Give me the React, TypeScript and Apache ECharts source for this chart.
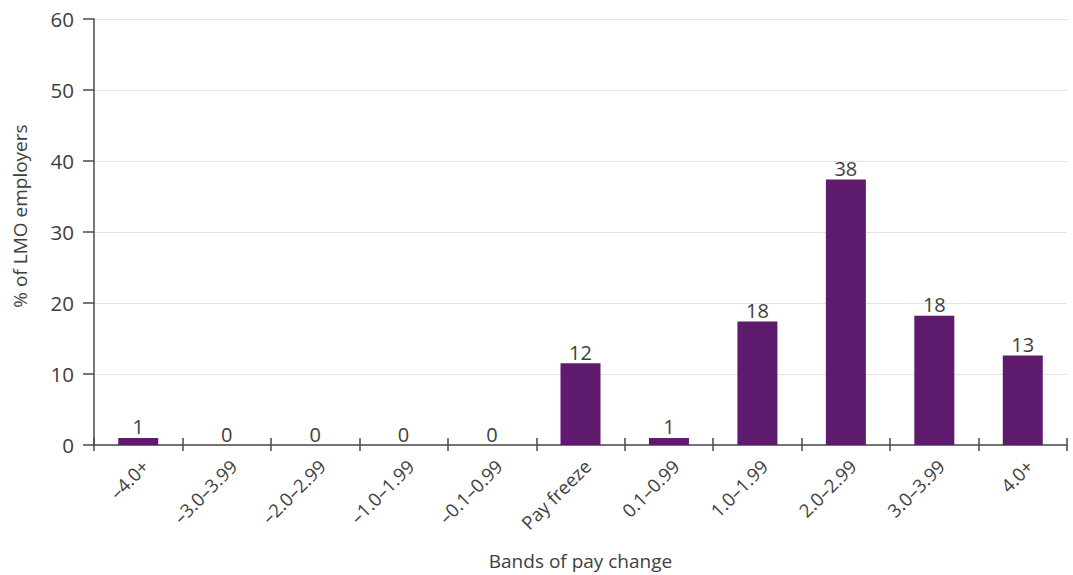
import React, { useEffect, useRef } from "react";
import * as echarts from "echarts";

const categories = ["–4.0+", "–3.0–3.99", "–2.0–2.99", "–1.0–1.99", "–0.1–0.99", "Pay freeze", "0.1–0.99", "1.0–1.99", "2.0–2.99", "3.0–3.99", "4.0+"];
const values = [1.0, 0, 0, 0, 0, 11.5, 1.0, 17.4, 37.4, 18.2, 12.6];
const labels = ["1", "0", "0", "0", "0", "12", "1", "18", "38", "18", "13"];
const yTicks = [0, 10, 20, 30, 40, 50, 60];
const yTitle = "% of LMO employers";
const xTitle = "Bands of pay change";

const FONT = "'Open Sans', Lato, sans-serif";
const TXT = "#404040";
const AX = "#4a4a4a";

export default function App() {
  const ref = useRef<HTMLDivElement>(null);
  useEffect(() => {
    if (!ref.current) return;
    const chart = echarts.init(ref.current, undefined, { renderer: "svg" });
    chart.setOption({
      animation: false,
      textStyle: { fontFamily: FONT, color: TXT },
      grid: { left: 94, right: 6, top: 19, bottom: 129, containLabel: false },
      graphic: [
        {
          type: "text",
          x: 20,
          y: 216,
          rotation: Math.PI / 2,
          style: { text: yTitle, fontSize: 19, fontFamily: FONT, fill: TXT, align: "center", verticalAlign: "middle" },
        },
      ],
      xAxis: [
        {
          type: "category",
          data: categories,
          name: xTitle,
          nameLocation: "middle",
          nameGap: 106,
          nameTextStyle: { fontSize: 19, color: TXT, fontFamily: FONT },
          axisLine: { lineStyle: { color: AX, width: 1.5 } },
          axisTick: { show: true, alignWithLabel: false, length: 6, lineStyle: { color: AX, width: 1.5 } },
          axisLabel: { rotate: 45, fontSize: 18.5, color: TXT, margin: 11, fontFamily: FONT, verticalAlign: "top" },
        },
        {
          type: "category",
          data: categories,
          position: "bottom",
          axisLine: { show: false },
          axisTick: { show: true, inside: true, alignWithLabel: false, length: 7, lineStyle: { color: AX, width: 1.5 } },
          axisLabel: { show: false },
        },
      ],
      yAxis: {
        type: "value",
        min: 0,
        max: 60,
        interval: 10,
        axisLine: { show: true, lineStyle: { color: AX, width: 1.5 } },
        axisTick: { show: true, length: 11, lineStyle: { color: AX, width: 1.5 } },
        axisLabel: {
          fontSize: 20.5,
          color: TXT,
          margin: 20,
          fontFamily: FONT,
          formatter: (v: number) => (yTicks.includes(v) ? String(v) : ""),
        },
        splitLine: { lineStyle: { color: "#e3e3e3", width: 1 } },
      },
      series: [
        {
          type: "bar",
          data: values,
          barWidth: 40,
          itemStyle: { color: "#5e1b6e" },
          label: {
            show: true,
            position: "top",
            distance: 1,
            fontSize: 20,
            color: TXT,
            fontFamily: FONT,
            formatter: (p: any) => labels[p.dataIndex],
          },
        },
      ],
    });
    return () => chart.dispose();
  }, []);
  return <div ref={ref} style={{ width: 1073, height: 575, position: "absolute", left: 0, top: 0, background: "#fff" }} />;
}
